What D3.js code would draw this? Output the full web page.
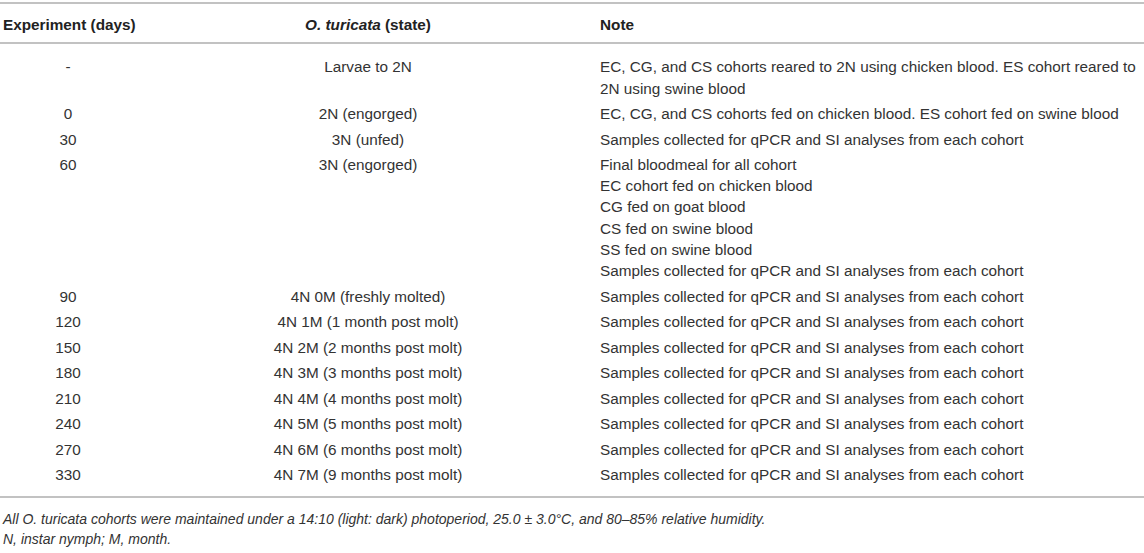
<!DOCTYPE html>
<html>
<head>
<meta charset="utf-8">
<script src="https://cdn.jsdelivr.net/npm/d3@7"></script>
<style>
  body { margin: 0; background: #fff; }
  svg { display: block; font-family: "Liberation Sans", Arial, Helvetica, sans-serif; }
</style>
</head>
<body>
<div id="table"></div>
<script>
const headers = ["Experiment (days)", "O. turicata", "Note"];

const days = ["-", "0", "30", "60", "90", "120", "150", "180", "210", "240", "270", "330"];

const states = [
    "Larvae to 2N",
    "2N (engorged)",
    "3N (unfed)",
    "3N (engorged)",
    "4N 0M (freshly molted)",
    "4N 1M (1 month post molt)",
    "4N 2M (2 months post molt)",
    "4N 3M (3 months post molt)",
    "4N 4M (4 months post molt)",
    "4N 5M (5 months post molt)",
    "4N 6M (6 months post molt)",
    "4N 7M (9 months post molt)"
];

const sampleNote = "Samples collected for qPCR and SI analyses from each cohort";

const notes = [
    ["EC, CG, and CS cohorts reared to 2N using chicken blood. ES cohort reared to", "2N using swine blood"],
    ["EC, CG, and CS cohorts fed on chicken blood. ES cohort fed on swine blood"],
    [sampleNote],
    ["Final bloodmeal for all cohort", "EC cohort fed on chicken blood", "CG fed on goat blood",
     "CS fed on swine blood", "SS fed on swine blood", sampleNote],
    [sampleNote], [sampleNote], [sampleNote], [sampleNote],
    [sampleNote], [sampleNote], [sampleNote], [sampleNote]
];

const footnotes = [
    "All O. turicata cohorts were maintained under a 14:10 (light: dark) photoperiod, 25.0 \u00b1 3.0\u00b0C, and 80\u201385% relative humidity.",
    "N, instar nymph; M, month."
];

const width = 1144;
const height = 553;
const lineH = 21.2;
const rowPad = 4.3;
const fontSize = 15.3;
const textColor = "#333333";
const ruleColor = "#c2c2c2";

const col = { day: 68, state: 368, note: 600 };

const svg = d3.select("#table").append("svg")
    .attr("width", width)
    .attr("height", height)
    .attr("viewBox", `0 0 ${width} ${height}`);

// row offsets in "line units" so a linear scale can place each text line
const rows = days.map((d, i) => ({ day: d, state: states[i], note: notes[i] }));
let acc = 0;
rows.forEach(r => {
    r.start = acc;
    acc += r.note.length + rowPad / lineH;
});

const y = d3.scaleLinear()
    .domain([0, 1])
    .range([67, 67 + lineH]);

const rule = yy => svg.append("line")
    .attr("x1", 0).attr("x2", width)
    .attr("y1", yy).attr("y2", yy)
    .attr("stroke", ruleColor)
    .attr("stroke-width", 2);

rule(3);
rule(43);

// header
const head = svg.append("g")
    .attr("font-size", fontSize)
    .attr("font-weight", "bold")
    .attr("fill", "#222");

head.append("text")
    .attr("x", 3).attr("y", 25)
    .attr("dy", "0.35em")
    .text(headers[0]);

const h2 = head.append("text")
    .attr("x", col.state).attr("y", 25)
    .attr("dy", "0.35em")
    .attr("text-anchor", "middle");
h2.append("tspan").attr("font-style", "italic").text(headers[1]);
h2.append("tspan").text(" (state)");

head.append("text")
    .attr("x", col.note).attr("y", 25)
    .attr("dy", "0.35em")
    .text(headers[2]);

// body
const body = svg.append("g")
    .attr("font-size", fontSize)
    .attr("fill", textColor);

const rowG = body.selectAll("g.row")
    .data(rows)
    .enter()
    .append("g")
    .attr("class", "row");

rowG.append("text")
    .attr("x", col.day)
    .attr("y", d => y(d.start))
    .attr("dy", "0.35em")
    .attr("text-anchor", "middle")
    .text(d => d.day);

rowG.append("text")
    .attr("x", col.state)
    .attr("y", d => y(d.start))
    .attr("dy", "0.35em")
    .attr("text-anchor", "middle")
    .text(d => d.state);

rowG.selectAll("text.note")
    .data(d => d.note.map((t, k) => ({ t, pos: d.start + k })))
    .enter()
    .append("text")
    .attr("class", "note")
    .attr("x", col.note)
    .attr("y", d => y(d.pos))
    .attr("dy", "0.35em")
    .text(d => d.t);

const last = rows[rows.length - 1];
const bottom = y(last.start + last.note.length) + 1;
rule(bottom);

svg.append("g")
    .attr("font-size", 14)
    .attr("font-style", "italic")
    .attr("fill", textColor)
    .selectAll("text")
    .data(footnotes)
    .enter()
    .append("text")
    .attr("x", 3)
    .attr("y", (d, i) => bottom + 22 + i * 20)
    .attr("dy", "0.35em")
    .text(d => d);
</script>
</body>
</html>
